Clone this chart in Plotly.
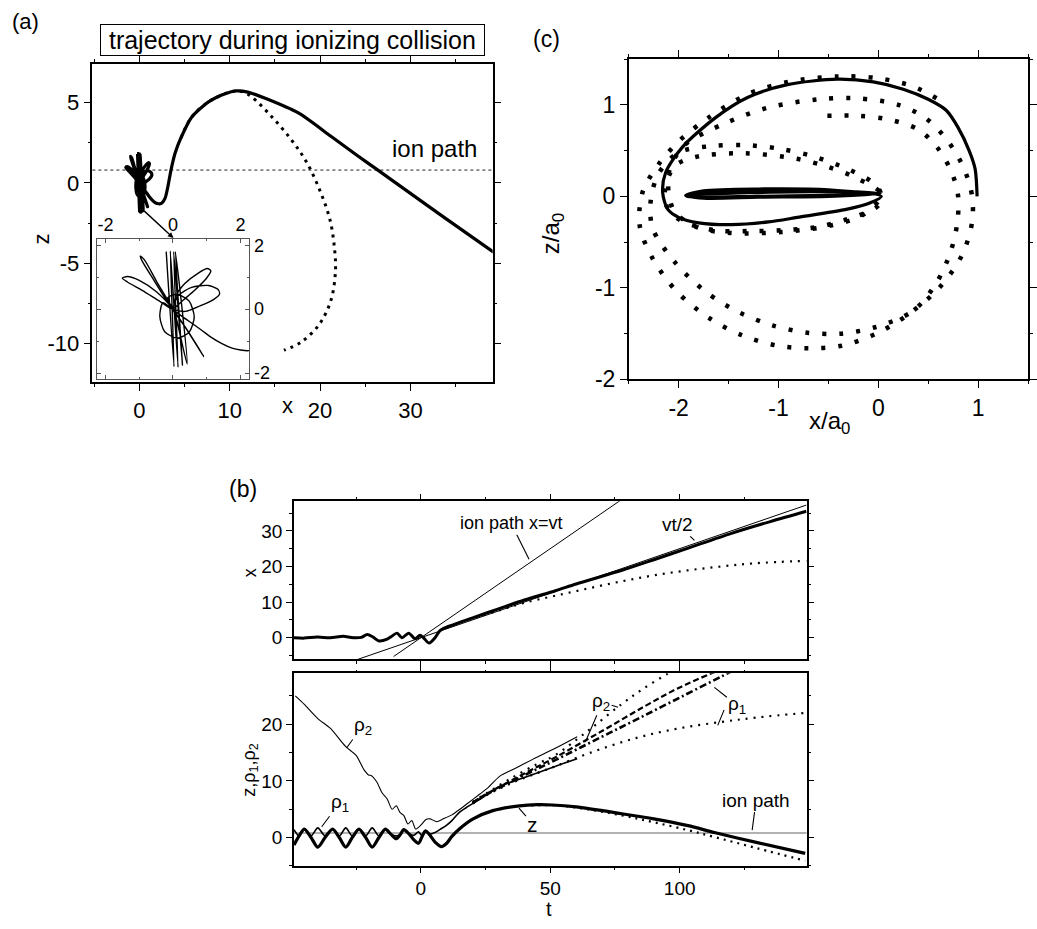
import plotly.graph_objects as go

FONT = "Liberation Sans, Arial, sans-serif"
W, H = 1037, 929

# ---------------- panel (a): electron trajectory in the x-z plane ----------------
orbit_x = [-0.20, 0.03, -0.08, 0.15, 0.02, 0.28, 0.07, 0.42, 0.10, 0.00,
           -0.45, -0.85, -0.97, -0.92, -0.55, -0.10, 0.40, 0.91, 0.86, 0.35, 0.00,
           -0.50, -1.00, -1.35, -1.50, -1.35, -0.90, -0.40, 0.00,
           0.08, 0.35, 0.75, 1.02, 1.12, 0.98, 0.65, 0.30, 0.00,
           0.15, 0.55, 1.05, 1.33, 1.38, 1.20, 0.80, 0.37, 0.00,
           -0.30, -0.39, -0.25, 0.12, 0.48, 0.63, 0.48, 0.12, -0.15, 0.00,
           0.30, 0.57, 0.85, 1.10, 1.45, 1.75, 2.00, 2.24]
orbit_z = [1.80, -1.80, 1.82, -1.82, 1.80, -1.76, 1.80, -1.72, -0.30, 0.00,
           0.80, 1.55, 1.66, 1.52, 0.88, 0.12, -0.62, -1.48, -1.40, -0.55, 0.00,
           0.55, 0.90, 1.02, 0.97, 0.85, 0.58, 0.25, 0.00,
           0.40, 0.80, 1.13, 1.27, 1.20, 0.95, 0.60, 0.28, 0.00,
           0.42, 0.68, 0.74, 0.62, 0.48, 0.30, 0.10, -0.07, 0.00,
           0.20, -0.22, -0.70, -0.91, -0.72, -0.25, 0.25, 0.47, 0.36, 0.00,
           -0.25, -0.45, -0.66, -0.86, -1.08, -1.22, -1.28, -1.30]
escape_x = [2.50, 2.85, 3.15, 3.50, 3.95, 4.60, 5.80, 7.70, 9.50, 10.70, 12.00,
            14.00, 17.60, 21.20, 24.00, 26.40, 30.00, 34.00, 39.20]
escape_z = [-1.25, -0.95, -0.25, 0.80, 1.85, 2.80, 4.10, 5.06, 5.55, 5.72, 5.65,
            5.25, 4.35, 2.90, 1.75, 0.80, -0.65, -2.25, -4.30]
dot_a_x = [4.6, 5.8, 7.7, 9.5, 10.7, 11.5, 12.4, 14.6, 16.8, 18.5, 20.0, 21.1,
           21.6, 21.7, 21.2, 19.9, 17.9, 16.0]
dot_a_z = [2.8, 4.1, 5.06, 5.55, 5.72, 5.65, 5.37, 4.15, 2.7, 1.3, -0.5, -2.3,
           -4.1, -5.5, -7.3, -8.8, -9.9, -10.4]
ion_z = 0.8

# ---------------- panel (c): bound motion, x/a0 - z/a0 ----------------
c_sol_x = [0.99, 0.97, 0.91, 0.80, 0.68, 0.50, 0.25, -0.05, -0.41, -0.91, -1.31,
           -1.63, -1.96, -2.13, -2.16, -2.11, -2.00, -1.80, -1.47, -1.10, -0.81,
           -0.31, -0.08, 0.03,
           -0.50, -1.20, -1.75, -1.93, -1.75, -1.20, -0.50, 0.02,
           -0.50, -1.20, -1.75, -1.92, -1.75, -1.20, -0.50, 0.00,
           -0.60, -1.30, -1.90]
c_sol_z = [0.00, 0.30, 0.50, 0.75, 0.94, 1.06, 1.17, 1.25, 1.28, 1.22, 1.08,
           0.86, 0.54, 0.26, 0.04, -0.14, -0.23, -0.29, -0.31, -0.28, -0.23,
           -0.14, -0.07, 0.00,
           0.07, 0.08, 0.06, 0.01, -0.02, -0.01, 0.00, 0.03,
           0.06, 0.06, 0.04, 0.00, -0.01, 0.00, 0.01, 0.03,
           0.05, 0.04, 0.02]
c_dot_x = [-0.51, -0.20, 0.10, 0.40, 0.60, 0.74, 0.80, 0.79, 0.72, 0.58, 0.35,
           -0.03, -0.38, -0.71, -1.06, -1.39, -1.72, -2.03, -2.26, -2.28,
           -2.20, -2.00, -1.66, -1.34, -0.99, -0.66, -0.31, -0.08, 0.02,
           0.00, -0.31, -0.64, -0.97, -1.31, -1.64, -2.00, -2.14,
           -2.05, -1.83, -1.34, -0.82, -0.50, -0.20, 0.03,
           -0.15, -0.48, -0.97, -1.48, -1.81, -2.05,
           -2.10, -1.95, -1.53, -1.10, -0.60, -0.20, 0.20, 0.48, 0.70, 0.86, 0.94,
           0.94, 0.84, 0.61, 0.30, -0.02, -0.36, -0.69, -1.02, -1.36, -1.68, -2.01,
           -2.26, -2.39, -2.36, -2.20,
           -2.00, -1.70, -1.30, -0.90, -0.40, 0.00, 0.35, 0.60]
c_dot_z = [0.88, 0.88, 0.84, 0.73, 0.52, 0.25, 0.00, -0.30, -0.62, -0.95, -1.25,
           -1.43, -1.50, -1.49, -1.41, -1.27, -1.05, -0.73, -0.35, -0.05,
           0.25, 0.48, 0.55, 0.56, 0.52, 0.44, 0.30, 0.17, 0.05,
           -0.10, -0.25, -0.34, -0.37, -0.38, -0.37, -0.25, -0.05,
           0.32, 0.43, 0.47, 0.41, 0.32, 0.19, 0.02,
           -0.20, -0.32, -0.39, -0.40, -0.34, -0.15,
           0.25, 0.55, 0.80, 0.97, 1.06, 1.07, 1.00, 0.85, 0.60, 0.30, 0.00,
           -0.28, -0.64, -1.00, -1.29, -1.50, -1.63, -1.66, -1.63, -1.52, -1.34, -1.05,
           -0.68, -0.32, 0.05, 0.35,
           0.60, 0.86, 1.12, 1.25, 1.31, 1.29, 1.20, 1.06]

# ---------------- panel (b), top: x(t) ----------------
bx_t = [-49, -45, -40, -35, -30, -27, -25, -23, -20.7, -18.5, -16.2, -13, -11.5,
        -9.2, -7.3, -4.7, -2.2, -0.3, 1.0, 3.2, 5.5, 7.4, 10, 12.5, 16, 20, 30,
        40, 52, 60, 78, 90, 103, 120, 135, 149]
bx_v = [0.0, -0.1, 0.2, 0.0, 0.4, 0.1, 0.0, 0.1, 0.9, 0.2, -0.9, -0.4, 0.3,
        1.3, 0.0, 1.3, -0.3, 0.7, 0.0, -1.5, 0.0, 2.0, 3.0, 3.6, 4.6, 5.6, 8.1,
        10.6, 13.2, 15.1, 19.0, 21.9, 25.1, 29.3, 32.6, 35.5]
bxd_t = [12.5, 20, 30, 40, 52, 65, 78, 90, 103, 116, 129, 149]
bxd_v = [3.6, 5.4, 7.6, 9.8, 11.8, 13.9, 15.9, 17.5, 18.9, 20.0, 20.9, 21.6]
ion_t = [-10.5, 77.5]
ion_x = [-5.25, 38.75]
half_t = [-24.5, 149]
half_x = [-6.1, 37.25]

# ---------------- panel (b), bottom: z, rho1, rho2 (t) ----------------
z_t = [-49, -47, -45, -42.4, -39.8, -37, -34.1, -31.5, -29, -26.5, -23.9, -21.3,
       -18.8, -16.2, -13.7, -11.6, -9.5, -8, -6.6, -4.5, -2.7, -0.9, 0.5, 1.8,
       3.2, 5.5, 8.0, 10, 12, 15.1, 20.2, 27.8, 38.1, 45, 50.8, 60, 77.7, 90,
       103.2, 113.4, 130, 148.5]
z_v = [-1.3, 0.3, 1.5, 0.0, -1.7, 0.0, 1.5, 0.0, -1.7, 0.0, 1.5, 0.0,
       -1.7, 0.0, 1.5, 0.6, -0.2, 0.5, 1.4, 0.6, -0.4, -1.0, 0.2, 1.2,
       0.6, -0.8, -1.6, -1.0, 0.2, 1.6, 3.3, 4.75, 5.6, 5.8, 5.75, 5.4, 4.2, 3.3,
       2.1, 0.9, -0.9, -2.8]
zd_t = [40, 50.8, 60, 77.7, 90, 103.2, 113.4, 130, 148.5]
zd_v = [5.6, 5.7, 5.3, 3.9, 2.7, 1.3, 0.1, -1.9, -4.1]
rho1_t = [-49, -47, -45, -42.4, -39.8, -37, -34.1, -31.5, -29, -26.5, -23.9,
          -21.3, -18.8, -16.2, -13.7, -11.6, -9.5, -8, -6.6, -4.5, -2.7, -0.9,
          0.5, 1.8, 3.2, 5.5, 8, 10, 12, 15, 17.6, 24, 30.4, 40, 52.1, 60.4]
rho1_v = [1.4, 0.3, 1.5, 0.3, 1.7, 0.3, 1.5, 0.3, 1.7, 0.3, 1.5,
          0.3, 1.7, 0.3, 1.5, 0.6, 0.3, 0.5, 1.4, 0.6, 0.4, 1.0,
          0.3, 1.2, 0.6, 0.9, 1.6, 2.2, 3.0, 4.5, 5.3, 7.1, 9.0, 10.6, 12.6, 13.9]
rho2_t = [-48.5, -45, -39.8, -35, -29, -25, -22, -20, -19.4, -17, -15, -13,
          -11.1, -9.5, -8, -6.6, -5, -3.5, -2, 0, 2, 3.6, 6.1, 8.7, 12, 15.1,
          18, 22.7, 26, 30.4, 36, 43.2, 52.1, 60.4]
rho2_v = [25.0, 23.5, 21.0, 19.3, 16.05, 14.5, 12.0, 11.0, 11.0, 9.8, 7.9, 6.8,
          5.0, 5.6, 4.4, 3.9, 2.4, 3.0, 1.5, 2.2, 3.2, 3.3, 2.8, 3.3, 4.0, 5.0,
          6.0, 7.65, 8.8, 10.8, 12.1, 13.8, 15.8, 17.8]
dash_t = [20, 25, 40, 52.1, 70, 86.6, 100, 115]
dash_v = [6.2, 7.6, 11.3, 14.2, 18.8, 23.2, 26.5, 29.5]
dashdot_t = [20, 25, 40, 52.1, 70, 84, 100, 116, 122]
dashdot_v = [6.1, 7.5, 11.0, 13.7, 17.8, 21.0, 24.7, 28.4, 29.8]
rho2d_t = [20, 25, 35, 45, 52.1, 65, 77.7, 86, 95.5, 97]
rho2d_v = [6.3, 7.7, 10.5, 13.0, 14.6, 19.0, 23.6, 26.3, 29.0, 29.5]
rho1d_t = [20, 25, 35, 45, 52.1, 65, 83.4, 100, 116, 130, 148.5]
rho1d_v = [6.0, 7.4, 9.6, 11.4, 12.6, 14.9, 17.6, 19.3, 20.4, 21.2, 22.0]

# tick labels (plain hyphen minus, as in the original)
a_ytick = [-10, -5, 0, 5]
a_xtick = [0, 10, 20, 30]
in_tick = [-2, 0, 2]
c_xtick = [-2, -1, 0, 1]
c_ytick = [-2, -1, 0, 1]

def fx(px):
    return px / W

def fy(py):
    return 1 - py / H

fig = go.Figure()

def add(x, y, xa, ya, width=1.0, dash=None, color="black", shape="spline", smooth=1.0):
    fig.add_trace(go.Scatter(x=x, y=y, xaxis=xa, yaxis=ya, mode="lines",
                             line=dict(color=color, width=width, dash=dash, shape=shape,
                                       smoothing=smooth if shape == "spline" else None),
                             showlegend=False, hoverinfo="skip"))

# (a)
add(orbit_x + escape_x, orbit_z + escape_z, "x", "y", width=3.2, smooth=0.7)
add(dot_a_x, dot_a_z, "x", "y", width=3, dash="3px,5px")
# inset
add(orbit_x + escape_x, orbit_z + escape_z, "x2", "y2", width=1.4, smooth=0.7)
# (c)
add(c_sol_x, c_sol_z, "x3", "y3", width=3.2, smooth=0.8)
add(c_dot_x, c_dot_z, "x3", "y3", width=4.5, dash="4px,13px", smooth=0.9)
# (b) top
add(ion_t, ion_x, "x4", "y4", width=1, shape="linear")
add(half_t, half_x, "x4", "y4", width=1, shape="linear")
add(bx_t, bx_v, "x4", "y4", width=3, smooth=0.8)
add(bxd_t, bxd_v, "x4", "y4", width=2.2, dash="2px,6px")
# (b) bottom
add(rho2_t, rho2_v, "x5", "y5", width=1.1, smooth=0.7)
add(rho1_t, rho1_v, "x5", "y5", width=1.6, smooth=0.8)
add(z_t, z_v, "x5", "y5", width=3.2, smooth=0.8)
add(zd_t, zd_v, "x5", "y5", width=2.2, dash="2px,5px")
add(dash_t, dash_v, "x5", "y5", width=2.2, dash="6px,3px")
add(dashdot_t, dashdot_v, "x5", "y5", width=2.6, dash="7px,3px,2px,3px")
add(rho2d_t, rho2d_v, "x5", "y5", width=2.2, dash="2px,6px")
add(rho1d_t, rho1d_v, "x5", "y5", width=2.2, dash="2px,6px")

def axis(domain, rng, dtick=None, minor=None, size=18, tickvals=None, showlabels=True,
         lw=1.5, color="black", ticks="outside", ticklen=7, **kw):
    d = dict(domain=domain, range=rng, showline=True, linecolor=color, linewidth=lw,
             mirror="allticks", ticks=ticks, ticklen=ticklen, tickwidth=1.2, tickcolor=color,
             showgrid=False, zeroline=False, showticklabels=showlabels,
             tickfont=dict(family=FONT, size=size, color="black"), fixedrange=True)
    if tickvals is not None:
        d.update(tickmode="array", tickvals=tickvals, ticktext=[str(v) for v in tickvals])
    else:
        d.update(tick0=0, dtick=dtick)
    if minor is not None:
        d["minor"] = dict(tick0=0, dtick=minor, ticks=ticks, ticklen=max(2, ticklen // 2),
                          tickcolor=color, tickwidth=1, showgrid=False)
    d.update(kw)
    return d

fig.update_layout(
    width=W, height=H, margin=dict(l=0, r=0, t=0, b=0),
    paper_bgcolor="white", plot_bgcolor="white",
    xaxis=axis([fx(93), fx(496)], [-5.2, 39.1], minor=5, tickvals=a_xtick, size=22,
               anchor="y"),
    yaxis=axis([fy(386), fy(62)], [-12.4, 7.4], minor=2.5, tickvals=a_ytick, size=22,
               anchor="x"),
    xaxis2=axis([fx(98), fx(251)], [-2.24, 2.26], minor=1, tickvals=in_tick, size=18,
                side="top", anchor="y2", lw=1, color="#555", ticks="inside", ticklen=4),
    yaxis2=axis([fy(383), fy(240)], [-2.2, 2.2], minor=1, tickvals=in_tick, size=18,
                side="right", anchor="x2", lw=1, color="#555", ticks="inside", ticklen=4),
    xaxis3=axis([fx(633), fx(1035)], [-2.5, 1.5], minor=0.5, tickvals=c_xtick, size=23,
                anchor="y3"),
    yaxis3=axis([fy(383), fy(57)], [-2, 1.5], minor=0.5, tickvals=c_ytick, size=23,
                anchor="x3"),
    xaxis4=axis([fx(296), fx(812)], [-49, 149], dtick=50, minor=25, showlabels=False,
                anchor="y4", ticklen=6),
    yaxis4=axis([fy(668), fy(507)], [-6.1, 38.3], dtick=10, minor=5, size=19,
                anchor="x4", ticklen=6),
    xaxis5=axis([fx(296), fx(812)], [-49, 149], dtick=50, minor=25, size=19,
                anchor="y5", ticklen=5),
    yaxis5=axis([fy(878), fy(682)], [-5, 29], dtick=10, minor=5, size=19,
                anchor="x5", ticklen=6),
)

# ion path lines
fig.add_shape(type="line", xref="x domain", yref="y", x0=0, x1=1, y0=ion_z, y1=ion_z,
              line=dict(color="#222", width=1, dash="dot"), layer="below")
fig.add_shape(type="line", xref="x5 domain", yref="y5", x0=0, x1=1, y0=ion_z, y1=ion_z,
              line=dict(color="#666", width=1.2), layer="below")

ann = []

def txt(px, py, s, size=18, angle=0, **kw):
    ann.append(dict(x=fx(px), y=fy(py), xref="paper", yref="paper", text=s,
                    showarrow=False, textangle=angle, xanchor="center", yanchor="middle",
                    font=dict(family=FONT, size=size, color="black"), **kw))

def ptr(xa, ya, x, y, dx, dy, s="", size=15):
    ann.append(dict(x=x, y=y, xref=xa, yref=ya, text=s, showarrow=True, arrowhead=0,
                    arrowwidth=1.1, arrowcolor="black", ax=dx, ay=dy, standoff=0,
                    font=dict(family=FONT, size=size, color="black")))

txt(26, 19, "(a)", 22)
txt(245, 495, "(b)", 23)
txt(550, 37, "(c)", 23)
txt(294, 38, "\u00a0trajectory during ionizing collision\u00a0", 25, bordercolor="black",
    borderwidth=1, borderpad=1)
txt(437, 148, "ion path", 24)
txt(289, 410, "x", 22)
txt(42, 240, "z", 22, angle=-90)
txt(835, 427, "x/a<sub>0</sub>", 24)
txt(557, 235, "z/a<sub>0</sub>", 24, angle=-90)
txt(252, 580, "x", 18, angle=-90)
txt(252, 780, "z,ρ<sub>1</sub>,ρ<sub>2</sub>", 18, angle=-90)
txt(553, 918, "t", 20, yshift=-4)

# inset pointer
ann.append(dict(x=3.77, y=-3.43, xref="x", yref="y", ax=0.36, ay=-1.65, axref="x",
                ayref="y", text="", showarrow=True, arrowhead=2, arrowsize=0.8,
                arrowwidth=1.4, arrowcolor="black", standoff=0))

# panel (b) pointers
ptr("x4", "y4", 41.8, 22.0, -18, -36, "ion path x=vt", 18)
ptr("x4", "y4", 105.7, 27.3, -17, -16, "vt/2", 19)
ptr("x5", "y5", -28.7, 15.8, 16, -22, "ρ<sub>2</sub>", 19)
ptr("x5", "y5", -38.3, 1.9, 18, -24, "ρ<sub>1</sub>", 19)
ptr("x5", "y5", 37.9, 5.2, 14, 16, "z", 21)
ptr("x5", "y5", 128.0, 1.3, 4, -30, "ion path", 19)
ptr("x5", "y5", 76.2, 23.0, -17, -5, "ρ<sub>2</sub>", 19)
ptr("x5", "y5", 63.6, 16.9, 12, -28)
ptr("x5", "y5", 113.4, 26.5, 23, 18, "ρ<sub>1</sub>", 19)
ptr("x5", "y5", 114.7, 19.8, 7, -17)

fig.update_layout(annotations=ann)
fig.write_html("out.html")
